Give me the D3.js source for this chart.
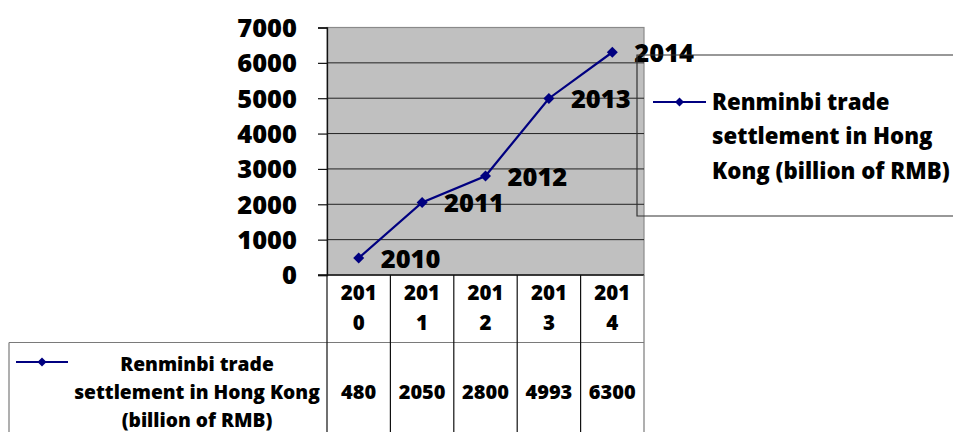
<!DOCTYPE html>
<html>
<head>
<meta charset="utf-8">
<script src="https://cdn.jsdelivr.net/npm/d3@7"></script>
<style>
  html, body { margin: 0; padding: 0; background: #fff; }
  svg { display: block; font-family: "Open Sans", Lato, sans-serif; font-weight: 800; }
</style>
</head>
<body>
<svg id="chart" width="953" height="432"></svg>
<script>
// Renminbi trade settlement in Hong Kong, 2010-2014
const years = ["2010", "2011", "2012", "2013", "2014"];
const values = [480, 2050, 2800, 4993, 6300];
const yTicks = [0, 1000, 2000, 3000, 4000, 5000, 6000, 7000];
const legendLines = ["Renminbi trade", "settlement in Hong", "Kong (billion of RMB)"];
const tableLabelLines = ["Renminbi trade", "settlement in Hong Kong", "(billion of RMB)"];

const svg = d3.select("#chart");
const plot = { left: 327, right: 644, top: 27.5, bottom: 275 };
const tableMid = 342.5, tableBottom = 432, tableLeft = 9;
const lineColor = "#000080";
const FONT = "'Open Sans', Lato, sans-serif";

const x = d3.scaleBand().domain(years).range([plot.left, plot.right]).padding(0);
const y = d3.scaleLinear().domain([0, 7000]).range([plot.bottom, plot.top]);

// square diamond marker centred on the origin
const diamond = r => `M0,${-r}L${r},0L0,${r}L${-r},0Z`;

// plot background
svg.append("rect")
  .attr("x", plot.left).attr("y", plot.top)
  .attr("width", plot.right - plot.left).attr("height", plot.bottom - plot.top)
  .attr("fill", "#c0c0c0").attr("stroke", "#8a8a8a").attr("stroke-width", 1.2);

// horizontal gridlines
svg.append("g").selectAll("line")
  .data(yTicks.filter(t => t > 0 && t < 7000))
  .join("line")
  .attr("x1", plot.left).attr("x2", plot.right)
  .attr("y1", d => y(d)).attr("y2", d => y(d))
  .attr("stroke", "#222").attr("stroke-width", 1);

// y axis
const yAxis = svg.append("g")
  .attr("transform", `translate(${plot.left},0)`)
  .call(d3.axisLeft(y).tickValues(yTicks).tickFormat(d3.format("d")).tickSize(9).tickPadding(21));
yAxis.select(".domain").attr("stroke", "#111").attr("stroke-width", 1.3);
yAxis.selectAll(".tick line").attr("stroke", "#111").attr("stroke-width", 1.2);
yAxis.selectAll(".tick text")
  .attr("font-family", FONT).attr("font-weight", 800)
  .attr("font-size", 25.5).attr("fill", "#000").attr("dy", "0.35em");

// data table: grid lines
const tbl = svg.append("g");
tbl.append("line")
  .attr("x1", plot.left - 9).attr("x2", plot.right)
  .attr("y1", plot.bottom).attr("y2", plot.bottom)
  .attr("stroke", "#111").attr("stroke-width", 1.3);
tbl.append("line")
  .attr("x1", tableLeft).attr("x2", plot.right)
  .attr("y1", tableMid).attr("y2", tableMid)
  .attr("stroke", "#7a7a7a").attr("stroke-width", 1.2);
tbl.append("line")
  .attr("x1", tableLeft).attr("x2", tableLeft)
  .attr("y1", tableMid).attr("y2", tableBottom)
  .attr("stroke", "#7a7a7a").attr("stroke-width", 1.2);
const colEdges = years.map(d => x(d)).concat([plot.right]);
tbl.selectAll("line.col")
  .data(colEdges)
  .join("line").attr("class", "col")
  .attr("x1", d => d).attr("x2", d => d)
  .attr("y1", plot.bottom).attr("y2", tableBottom)
  .attr("stroke", (d, i) => i === colEdges.length - 1 ? "#7a7a7a" : "#111")
  .attr("stroke-width", 1.2);

// header cells: year wrapped onto two lines
const head = tbl.selectAll("text.head")
  .data(years)
  .join("text").attr("class", "head")
  .attr("x", d => x(d) + x.bandwidth() / 2)
  .attr("text-anchor", "middle")
  .attr("font-size", 20.5).attr("fill", "#000");
head.append("tspan").attr("x", d => x(d) + x.bandwidth() / 2).attr("y", 300).text(d => d.slice(0, 3));
head.append("tspan").attr("x", d => x(d) + x.bandwidth() / 2).attr("y", 329.5).text(d => d.slice(3));

// value cells
tbl.selectAll("text.val")
  .data(values)
  .join("text").attr("class", "val")
  .attr("x", (d, i) => x(years[i]) + x.bandwidth() / 2)
  .attr("y", 398.5)
  .attr("text-anchor", "middle")
  .attr("font-size", 20).attr("fill", "#000")
  .text(d => d);

// row label with legend key
tbl.selectAll("text.rowlab")
  .data(tableLabelLines)
  .join("text").attr("class", "rowlab")
  .attr("x", 197)
  .attr("y", (d, i) => 370.5 + i * 28.3)
  .attr("text-anchor", "middle")
  .attr("font-size", 19.2).attr("fill", "#000")
  .text(d => d);

function legendKey(g, cx, cy, half) {
  g.append("line")
    .attr("x1", cx - half).attr("x2", cx + half)
    .attr("y1", cy).attr("y2", cy)
    .attr("stroke", lineColor).attr("stroke-width", 2);
  g.append("path")
    .attr("d", diamond(4.5))
    .attr("transform", `translate(${cx},${cy})`)
    .attr("fill", lineColor);
}
legendKey(tbl, 42, 362, 26);

// series line and markers
const line = d3.line()
  .x((d, i) => x(years[i]) + x.bandwidth() / 2)
  .y(d => y(d));
svg.append("path")
  .datum(values)
  .attr("d", line)
  .attr("fill", "none")
  .attr("stroke", lineColor).attr("stroke-width", 2.2);
svg.append("g").selectAll("path")
  .data(values)
  .join("path")
  .attr("d", diamond(5.5))
  .attr("transform", (d, i) => `translate(${x(years[i]) + x.bandwidth() / 2},${y(d)})`)
  .attr("fill", lineColor);

// point labels (category names)
svg.append("g").selectAll("text")
  .data(values)
  .join("text")
  .attr("x", (d, i) => x(years[i]) + x.bandwidth() / 2 + 22)
  .attr("y", d => y(d) + 9.5)
  .attr("font-size", 25.5).attr("fill", "#000")
  .text((d, i) => years[i]);

// legend
const leg = svg.append("g");
leg.append("path")
  .attr("d", "M953,55 H637 V216 H953")
  .attr("fill", "none").attr("stroke", "#333").attr("stroke-width", 1.2);
legendKey(leg, 679.5, 102, 26.5);
leg.selectAll("text")
  .data(legendLines)
  .join("text")
  .attr("x", 712)
  .attr("y", (d, i) => 109.5 + i * 34.5)
  .attr("font-size", 22.2).attr("fill", "#000")
  .text(d => d);
</script>
</body>
</html>
